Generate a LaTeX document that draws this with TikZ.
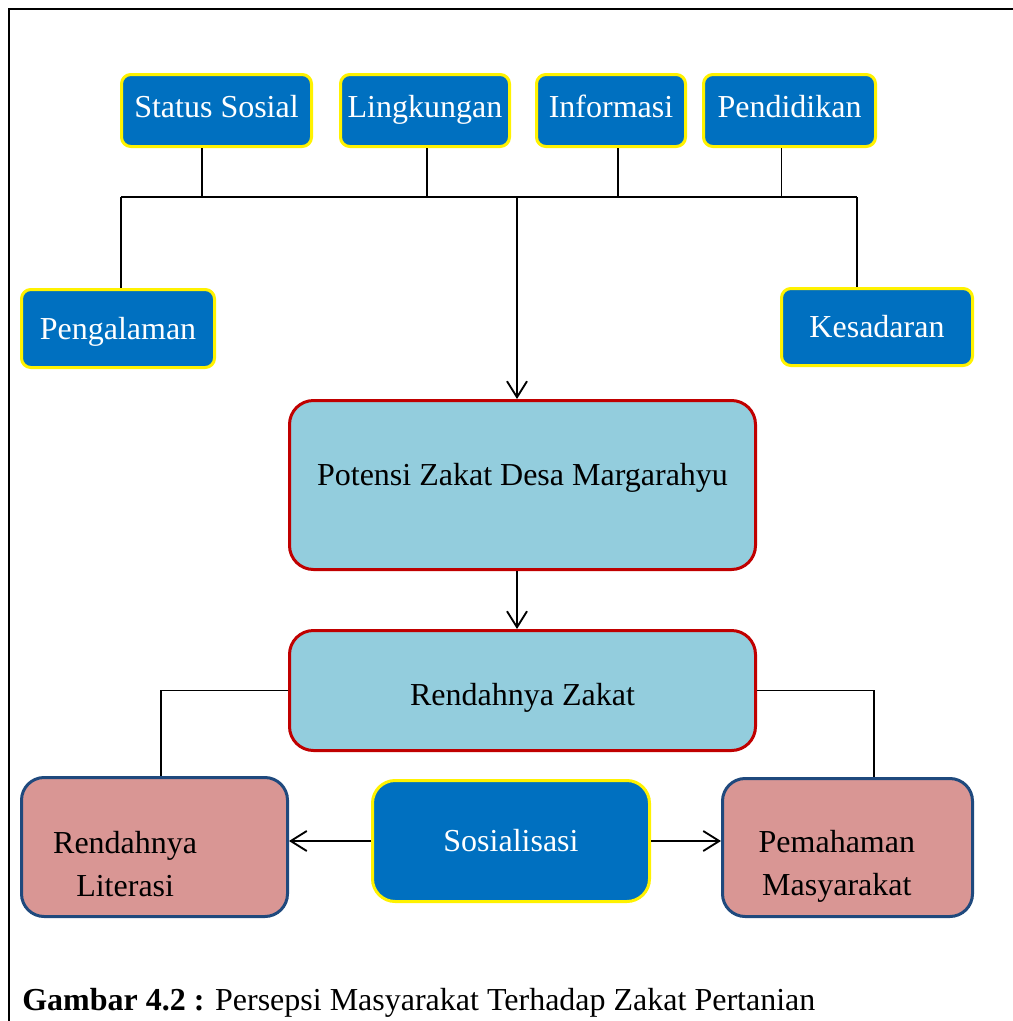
\documentclass[tikz,border=0pt]{standalone}
\usepackage{fontspec}
\setmainfont{Liberation Serif}
\usetikzlibrary{arrows.meta}

\definecolor{faktorblue}{HTML}{0070C0}
\definecolor{zakatred}{HTML}{C00000}
\definecolor{zakatcyan}{HTML}{93CDDD}
\definecolor{dampakpink}{HTML}{D99694}
\definecolor{dampaknavy}{HTML}{1F497D}

\tikzset{
	faktor/.style={draw=yellow, line width=2.25pt, fill=faktorblue, text=white, rounded corners=7pt, minimum height=54pt, text height=16pt, text depth=6pt},
	pusat/.style={draw=zakatred, line width=2.25pt, fill=zakatcyan, rounded corners=18pt, minimum width=349.5pt},
	dampak/.style={draw=dampaknavy, line width=2.25pt, fill=dampakpink, rounded corners=17pt},
	garis/.style={line width=1.4pt}
}

\begin{document}
\begin{tikzpicture}[x=0.75pt,y=-0.75pt,font=\fontsize{24}{32}\selectfont,>={Straight Barb[length=12pt,width=15pt]}]
	\clip (0,0) rectangle (1013,1021);
	\draw[line width=1.5pt] (8.5,1040) -- (8.5,8.5) -- (1040,8.5);

	% faktor-faktor
	\node[faktor, minimum width=142.5pt] (ss) at (216.5,110.5) {Status Sosial};
	\node[faktor, minimum width=126.75pt] (lk) at (425,110.5) {Lingkungan};
	\node[faktor, minimum width=111.75pt] (inf) at (611,110.5) {Informasi};
	\node[faktor, minimum width=129pt] (pend) at (789.5,110.5) {Pendidikan};
	\node[faktor, minimum width=144.75pt, minimum height=58.5pt, text depth=0pt] (peng) at (118,328.5) {Pengalaman};
	\node[faktor, minimum width=143.25pt, minimum height=57.75pt, text depth=0pt] (kes) at (877,327) {Kesadaran};

	\coordinate (busL) at (121,197);
	\coordinate (busR) at (857,197);
	\coordinate (hub) at (517,197);

	\draw[garis] (busL) -- (busR);
	\foreach \n/\dx in {ss/-11,lk/1.5,inf/5,pend/-6}
		\draw[garis] ([xshift=\dx pt]\n.south) -- ([xshift=\dx pt]\n.south |- busL);
	\draw[garis] (busL) -- (busL |- peng.north);
	\draw[garis] (busR) -- (busR |- kes.north);

	% pusat
	\node[pusat, minimum height=126.75pt, text height=16pt, text depth=16pt] (pot) at (522.5,485) {Potensi Zakat Desa Margarahyu};
	\node[pusat, minimum height=90pt, text height=23pt, text depth=0pt] (rz) at (522.5,690.5) {Rendahnya Zakat};
	\draw[garis,->] (hub) -- (hub |- pot.north);
	\draw[garis,->] (pot.south -| hub) -- (rz.north -| hub);

	% dampak
	\node[dampak, minimum width=199.5pt, minimum height=104.25pt,
		label={[align=center, xshift=-22pt, yshift=-13pt]center:Rendahnya\\Literasi}] (lit) at (154.5,847) {};
	\node[dampak, minimum width=187.5pt, minimum height=103.5pt,
		label={[align=center, xshift=-8pt, yshift=-14pt]center:Pemahaman\\Masyarakat}] (pem) at (847.5,847.5) {};
	\node[faktor, minimum width=207.75pt, minimum height=90.75pt, rounded corners=17pt, text depth=0pt] (sos) at (511,841) {Sosialisasi};

	\draw[garis] (rz.west) -| ([xshift=5pt]lit.north);
	\draw[garis] (rz.east) -| ([xshift=20pt]pem.north);
	\draw[garis,->] (sos.west) -- (sos.west -| lit.east);
	\draw[garis,->] (sos.east) -- (sos.east -| pem.west);

	\node[anchor=base west, inner sep=0pt] (judul) at (22,1010) {\textbf{Gambar 4.2 :} Persepsi Masyarakat Terhadap Zakat Pertanian};
\end{tikzpicture}
\end{document}
